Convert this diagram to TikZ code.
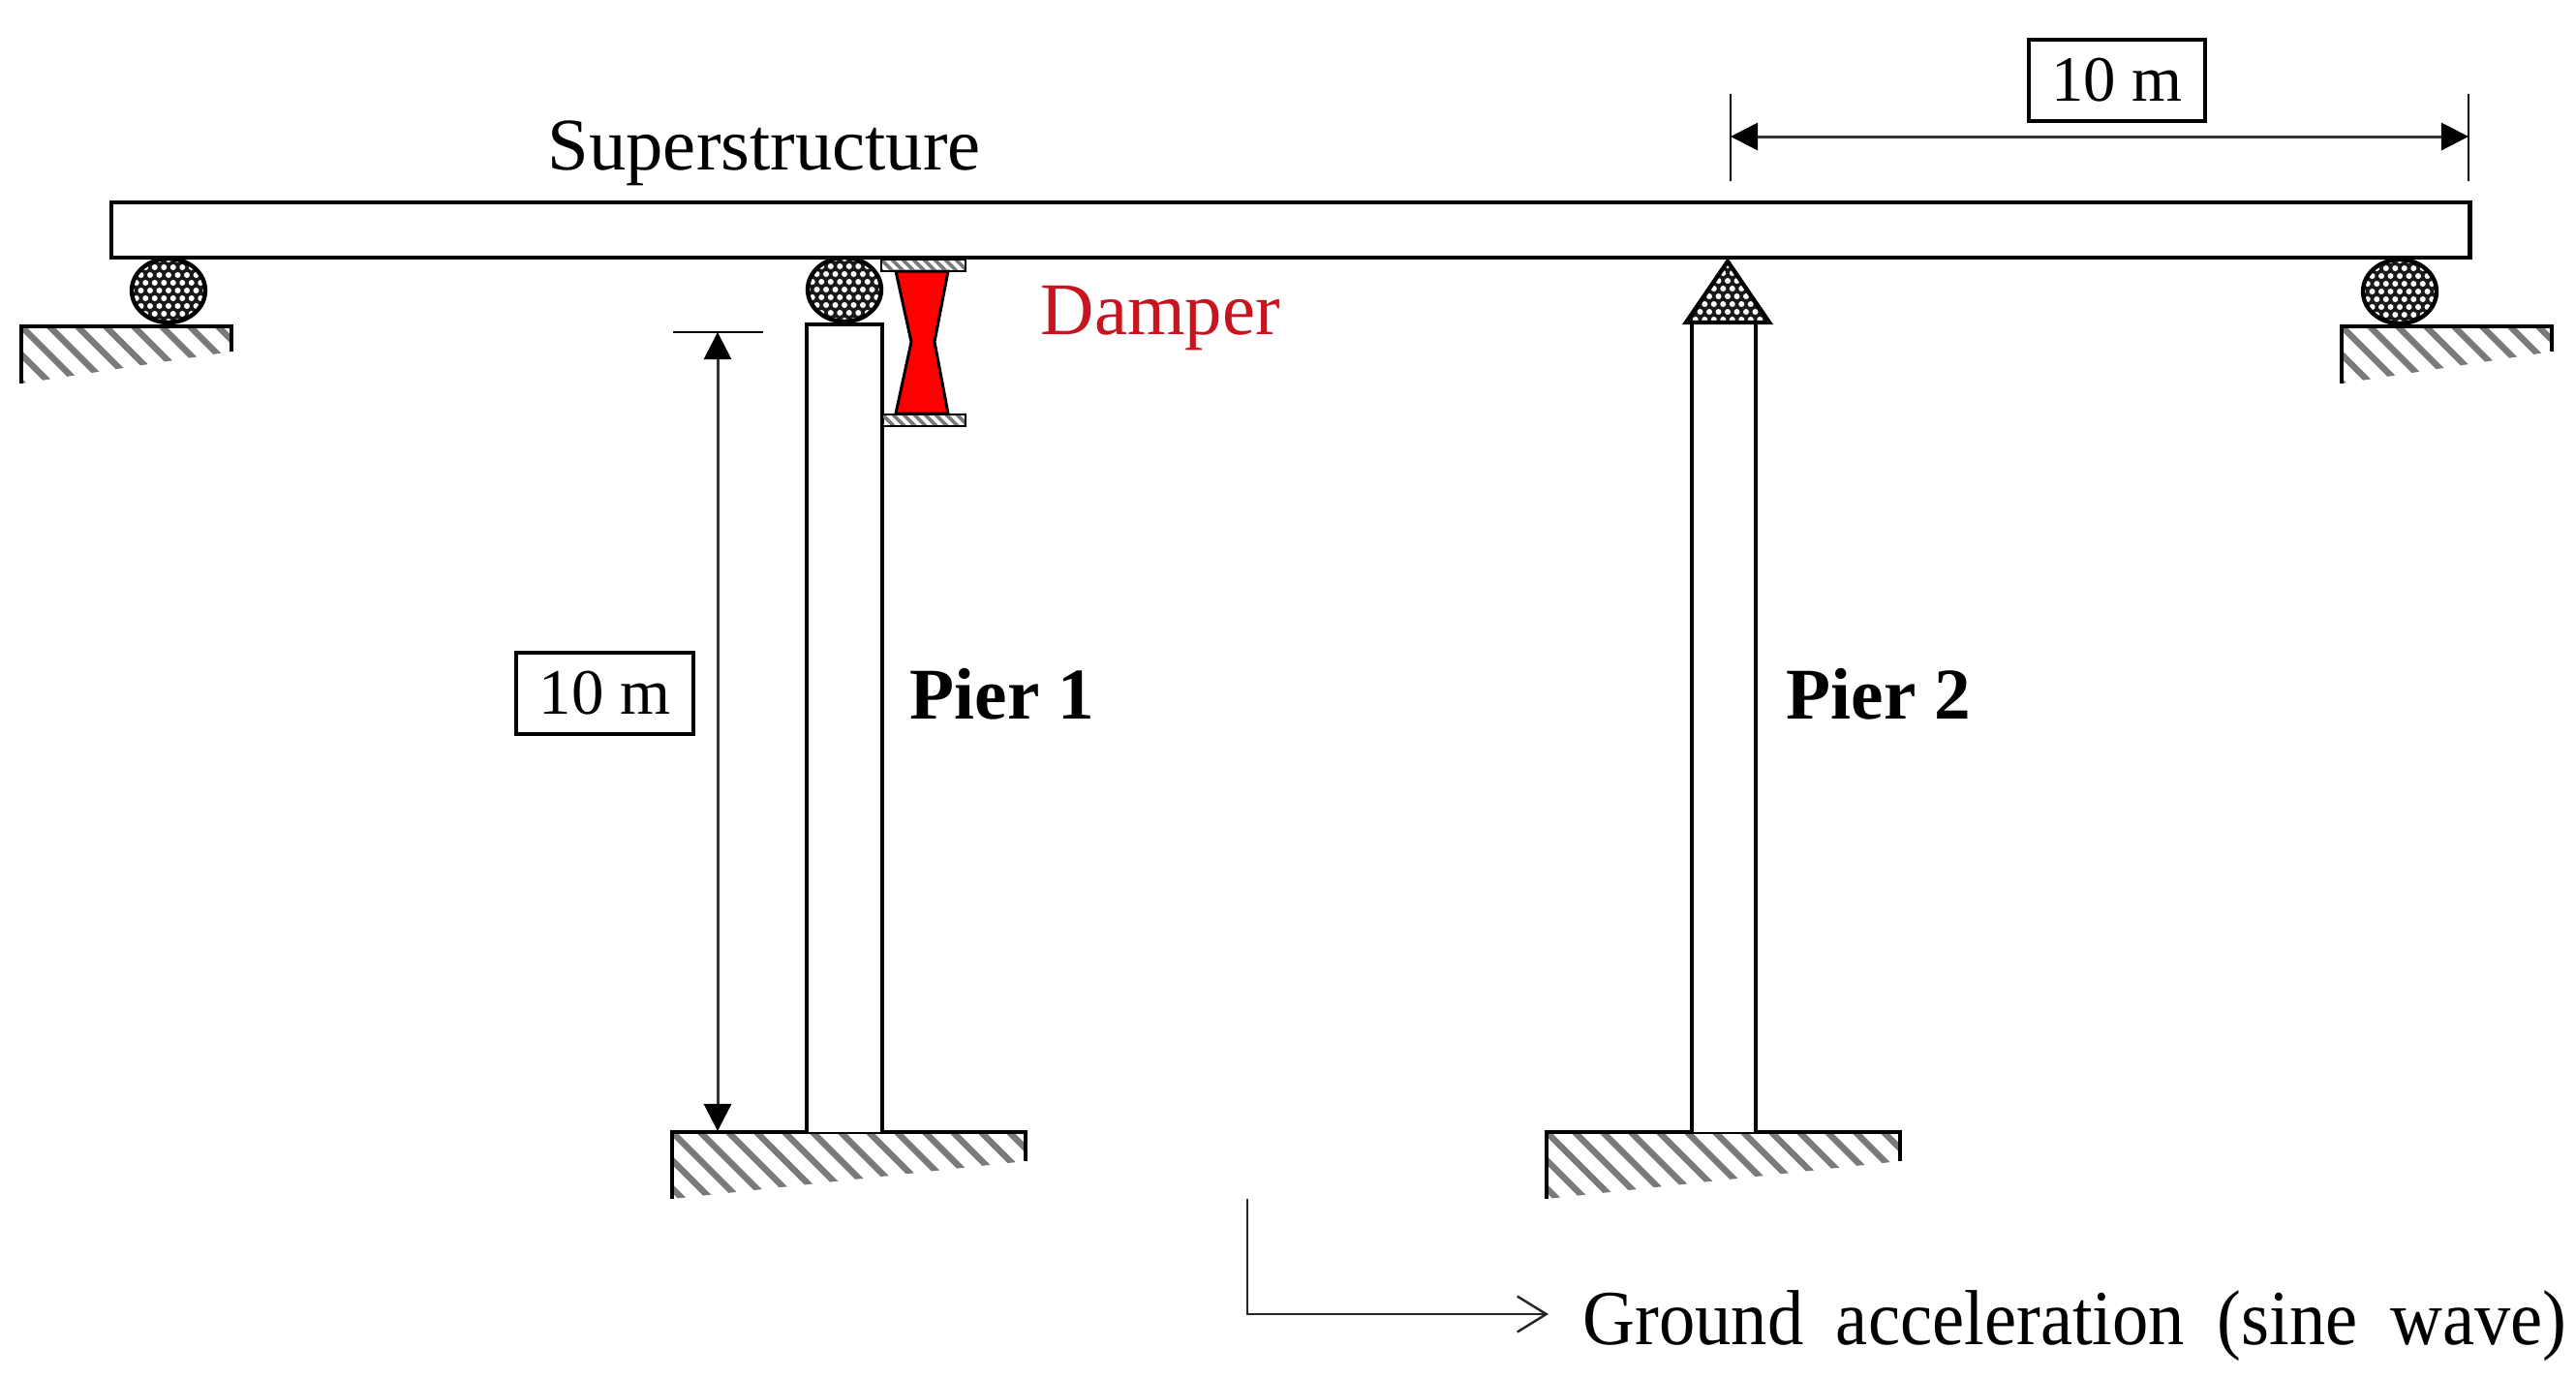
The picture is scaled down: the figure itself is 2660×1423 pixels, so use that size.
\documentclass[tikz,border=0pt]{standalone}
\usepackage{fontspec}
\setmainfont{Liberation Serif}
\usetikzlibrary{arrows.meta}
\definecolor{dampertext}{HTML}{C8141E}
\definecolor{hatchgrey}{HTML}{7A7A7A}
\tikzset{
  x=0.01cm,y=-0.01cm,
  outline/.style={draw=black,line width=1.25pt,line join=miter},
  thinline/.style={draw=black,line width=0.55pt},
  dimline/.style={draw=black!80,line width=0.85pt,{Triangle[length=8pt,width=8pt,color=black]}-{Triangle[length=8pt,width=8pt,color=black]}},
  groundline/.style={draw=black!85,line width=0.8pt,-{Straight Barb[length=8.5pt,width=10.5pt,line width=0.7pt]}},
  stripe/.style={draw=hatchgrey,line width=1.9pt},
  fine stripe/.style={draw=hatchgrey,line width=1.1pt},
  caption/.style={inner sep=0pt,font=\fontsize{21.8pt}{24pt}\selectfont},
  bold caption/.style={inner sep=0pt,font=\fontsize{21.4pt}{24pt}\selectfont\bfseries},
  lengthbox/.style={draw=black,line width=1.1pt,fill=white,inner sep=0pt,minimum height=84*0.2845pt,font=\fontsize{19pt}{22pt}\selectfont},
}
% #1 left x, #2 top y, #3 width, #4 depth at left, #5 depth at right
\newcommand{\groundblock}[5]{%
  \begin{scope}
    \clip (#1,#2) -- (#1+#3,#2) -- (#1+#3,#2+#5) -- (#1,#2+#4) -- cycle;
    \foreach \k in {-3,...,14}
      \draw[stripe] ({#1+\k*29},#2) -- ++(90,90);
  \end{scope}
  \draw[outline] (#1,#2+#4) -- (#1,#2) -- (#1+#3,#2) -- (#1+#3,#2+#5);
}
% stippled fill inside the current clip, around centre #1,#2
\newcommand{\stipple}[2]{%
  \fill[black!90] (#1-50,#2-50) rectangle (#1+50,#2+50);
  \foreach \r in {-6,...,6}
    \foreach \c in {-6,...,6}
      \fill[white] ({#1+\c*9.5+mod(abs(\r),2)*4.75},{#2+\r*8}) circle [radius=3];
}
\newcommand{\roller}[2]{%
  \begin{scope}
    \clip (#1,#2) ellipse [x radius=38,y radius=33];
    \stipple{#1}{#2}
  \end{scope}
  \draw[outline] (#1,#2) ellipse [x radius=38,y radius=33];
}
\newcommand{\plate}[3]{%
  \begin{scope}
    \clip (#1,#2) rectangle (#1+#3,#2+12);
    \foreach \k in {-1,...,9}
      \draw[fine stripe] (#1+\k*11,#2) -- ++(12,12);
  \end{scope}
  \draw[draw=black,line width=0.8pt] (#1,#2) rectangle (#1+#3,#2+12);
}
\begin{document}
\begin{tikzpicture}
\useasboundingbox (0,0) rectangle (2660,1423);
\fill[white] (0,0) rectangle (2660,1423);

% named reference points
\coordinate (dvTop) at (741,343);
\coordinate (dvBot) at (741,1168);
\coordinate (dvTickA) at (695,343);
\coordinate (dvTickB) at (788,343);
\coordinate (dhL) at (1787,141);
\coordinate (dhR) at (2549,141);
\coordinate (dhLa) at (1787,97);
\coordinate (dhLb) at (1787,187);
\coordinate (dhRa) at (2549,97);
\coordinate (dhRb) at (2549,187);
\coordinate (gStart) at (1288,1238);
\coordinate (gCorner) at (1288,1357);
\coordinate (gEnd) at (1599,1357);

% grounds
\groundblock{22}{337}{217}{59}{26}
\groundblock{2418}{337}{217}{59}{26}
\groundblock{694}{1169}{365}{69}{30}
\groundblock{1597}{1169}{365}{69}{30}

% rollers
\roller{174}{300}
\roller{872}{299}
\roller{2478}{301}

% piers
\draw[outline,fill=white] (833,1169) -- (833,335) -- (911,335) -- (911,1169);
\draw[outline,fill=white] (1747,1169) -- (1747,333) -- (1813,333) -- (1813,1169);

% hinge on pier 2
\begin{scope}
  \clip (1784,270) -- (1827,333) -- (1741,333) -- cycle;
  \stipple{1784}{306}
\end{scope}
\draw[outline] (1784,270) -- (1827,333) -- (1741,333) -- cycle;

% superstructure
\node[outline,fill=white,inner sep=0pt,anchor=north west,
      minimum width=2434*0.2845pt,minimum height=57*0.2845pt] (beam) at (113,207) {};

% damper
\draw[fill=red,draw=black,line width=0.85pt] (925,280) -- (941,353) -- (925,427) -- (979,427) -- (965,353) -- (979,280) -- cycle;
\plate{910}{268}{87}
\plate{911}{428}{86}

% dimensions
\draw[thinline] (dvTickA) -- (dvTickB);
\draw[dimline] (dvTop) -- (dvBot);
\draw[thinline] (dhLa) -- (dhLb);
\draw[thinline] (dhRa) -- (dhRb);
\draw[dimline] (dhL) -- (dhR);
\draw[groundline] (gStart) -- (gCorner) -- (gEnd);

% labels
\node[lengthbox,minimum width=183*0.2845pt] (boxv) at (624.5,716) {\raisebox{-0.5pt}{10 m}};
\node[lengthbox,minimum width=182*0.2845pt] (boxh) at (2186,83) {\raisebox{-0.5pt}{10 m}};
\node[caption,anchor=base west] (super) at (565,175) {Superstructure};
\node[caption,anchor=base west,text=dampertext] (damper) at (1074,345) {Damper};
\node[bold caption,anchor=base west] (p1) at (939,742) {Pier 1};
\node[bold caption,anchor=base west] (p2) at (1844,742) {Pier 2};
\node[caption,anchor=base west] (ga) at (1634,1388) {\scalebox{1}[1.08]{\fontsize{21.2pt}{24pt}\selectfont\spaceskip=0.45em Ground acceleration (sine wave)}};
\end{tikzpicture}
\end{document}
